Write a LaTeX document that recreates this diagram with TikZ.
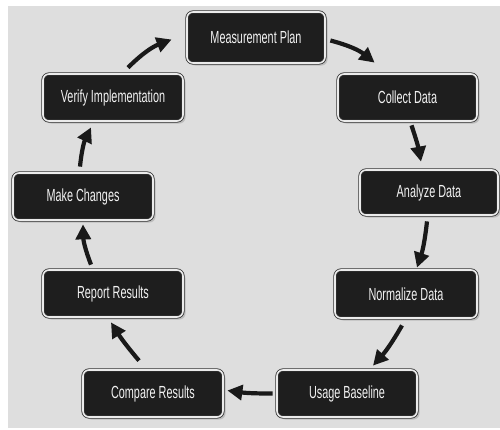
\documentclass[tikz,border=0pt]{standalone}
\usepackage{fontspec}
\setmainfont{Liberation Sans}[FakeStretch=0.62]
\usetikzlibrary{arrows.meta,shadows,calc}
\definecolor{bggrey}{HTML}{DEDEDE}
\definecolor{boxfill}{HTML}{1E1E1E}
\tikzset{
  stepbox/.style={rounded corners=6pt, draw=black!80, line width=0.8pt,
    double=white!92!black, double distance=1.6pt, fill=boxfill,
    text=white!95!black, font=\fontsize{17.5}{17.5}\selectfont, inner sep=0pt,
    drop shadow={opacity=0.35, shadow xshift=2.5pt, shadow yshift=-2.5pt}},
  flow/.style={line width=4.2pt, black!90,
    -{Triangle[length=15pt,width=15pt]}}
}
\begin{document}
\begin{tikzpicture}[x=1pt,y=-1pt]
\useasboundingbox (0,0) rectangle (500,429);
\fill[white] (0,0) rectangle (500,429);
\fill[bggrey] (8,6) rectangle (500,428);
% nodes
\node[stepbox, minimum width=138pt, minimum height=51pt] (mp) at (256,37.5) {Measurement Plan};
\node[stepbox, minimum width=139pt, minimum height=47pt] (cd) at (407.5,97.5) {Collect Data};
\node[stepbox, minimum width=138pt, minimum height=45pt] (ad) at (429,192.5) {Analyze Data};
\node[stepbox, minimum width=142pt, minimum height=48pt] (nd) at (406,294) {Normalize Data};
\node[stepbox, minimum width=140pt, minimum height=47pt] (ub) at (347,393.5) {Usage Baseline};
\node[stepbox, minimum width=140pt, minimum height=47pt] (cr) at (153,393.5) {Compare Results};
\node[stepbox, minimum width=140pt, minimum height=47pt] (rr) at (113,293.5) {Report Results};
\node[stepbox, minimum width=140pt, minimum height=47pt] (mc) at (83,196.5) {Make Changes};
\node[stepbox, minimum width=140pt, minimum height=47pt] (vi) at (113,97.5) {Verify Implementation};
% connectors
\draw[flow] ($(mp.east)+(5,3)$) to[bend left=12] ($(cd.north west)+(37,-11)$);
\draw[flow] ($(cd.south)+(4,4)$) to[bend left=4] ($(ad.north)+(-8,-8)$);
\draw[flow] ($(ad.south)+(-2,6)$) to[bend left=6] ($(nd.north)+(11,-2)$);
\draw[flow] ($(nd.south)+(-4,7)$) to[bend left=6] ($(ub.north)+(26,-4)$);
\draw[flow] ($(ub.west)+(-4,0)$) to[bend left=4] ($(cr.east)+(4,-3)$);
\draw[flow] ($(cr.north)+(-14,-9)$) to[bend left=4] ($(rr.south)+(-2,5)$);
\draw[flow] ($(rr.north)+(-22,-5)$) to[bend left=10] ($(mc.south)+(0,4)$);
\draw[flow] ($(mc.north)+(-3,-6)$) to[bend left=10] ($(vi.south)+(-22,6)$);
\draw[flow] ($(vi.north)+(15,-6)$) to[bend left=12] ($(mp.west)+(-15,2)$);
\end{tikzpicture}
\end{document}
